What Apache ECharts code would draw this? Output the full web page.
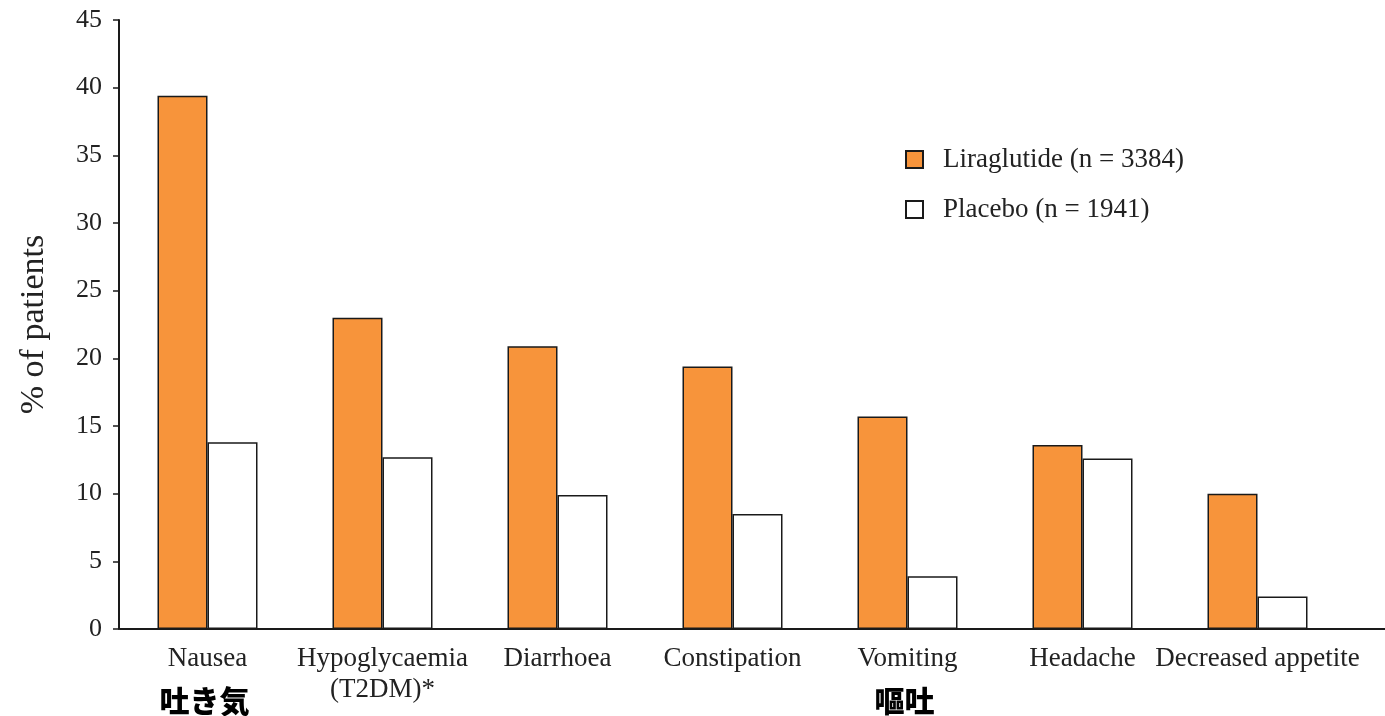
<!DOCTYPE html>
<html>
<head>
<meta charset="utf-8">
<script src="https://cdn.jsdelivr.net/npm/echarts@6/dist/echarts.min.js"></script>
<style>
  html, body { margin: 0; padding: 0; background: #fff; }
  #chart { width: 1385px; height: 716px; }
</style>
</head>
<body>
<div id="chart"></div>
<script>
// Adverse events reported with liraglutide vs placebo
const categories = ['Nausea', 'Hypoglycaemia\n(T2DM)*', 'Diarrhoea', 'Constipation', 'Vomiting', 'Headache', 'Decreased appetite'];
const japaneseNotes = ['吐き気', '', '', '', '嘔吐', '', ''];
const liraglutide = [39.4, 23.0, 20.9, 19.4, 15.7, 13.6, 10.0];
const placebo = [13.8, 12.7, 9.9, 8.5, 3.9, 12.6, 2.4];
const seriesNames = ['Liraglutide (n = 3384)', 'Placebo (n = 1941)'];
const yTicks = { min: 0, max: 45, interval: 5 };

const SERIF = '"Liberation Serif", "DejaVu Serif", serif';
const ORANGE = '#F7943B';
const INK = '#1a1a1a';
const GRID_LEFT = 120;
const GRID_RIGHT = 40;

const chart = echarts.init(document.getElementById('chart'), null, { renderer: 'canvas' });

const option = {
  animation: false,
  backgroundColor: '#ffffff',
  grid: { left: GRID_LEFT, right: GRID_RIGHT, top: 20, bottom: 87, containLabel: false },
  legend: {
    orient: 'vertical',
    left: 900,
    top: 141,
    itemWidth: 17,
    itemHeight: 17,
    itemGap: 23,
    icon: 'rect',
    textStyle: { fontFamily: SERIF, fontSize: 27, color: '#222', padding: [0, 0, 0, 15] },
    data: seriesNames
  },
  xAxis: {
    type: 'category',
    data: categories,
    axisLine: { show: true, lineStyle: { color: INK, width: 2 } },
    axisTick: { show: false },
    axisLabel: {
      interval: 0,
      margin: 14,
      fontFamily: SERIF,
      fontSize: 27,
      lineHeight: 31,
      color: '#222'
    },
    splitLine: { show: false }
  },
  yAxis: {
    type: 'value',
    min: yTicks.min,
    max: yTicks.max,
    interval: yTicks.interval,
    offset: 1,
    name: '% of patients',
    nameLocation: 'middle',
    nameGap: 68,
    nameRotate: 90,
    nameTextStyle: { fontFamily: SERIF, fontSize: 34, color: '#222' },
    axisLine: { show: true, lineStyle: { color: INK, width: 2 } },
    axisTick: { show: true, length: 6, inside: false, lineStyle: { color: INK, width: 1.5 } },
    axisLabel: { margin: 17, fontFamily: SERIF, fontSize: 26, color: '#222' },
    splitLine: { show: false }
  },
  series: [
    {
      name: seriesNames[0],
      type: 'bar',
      data: liraglutide,
      barWidth: 50,
      barGap: '0%',
      itemStyle: { color: ORANGE, borderColor: INK, borderWidth: 1.5 }
    },
    {
      name: seriesNames[1],
      type: 'bar',
      data: placebo,
      barWidth: 50,
      barGap: '0%',
      itemStyle: { color: '#ffffff', borderColor: INK, borderWidth: 1.5 }
    }
  ]
};

chart.setOption(option);

// Japanese notes under selected categories, plus the x-axis line running on to the right edge
const graphics = [];
japaneseNotes.forEach((note, i) => {
  if (!note) return;
  const x = chart.convertToPixel({ xAxisIndex: 0 }, i);
  graphics.push({
    type: 'text',
    x: x - 3,
    y: 701,
    style: {
      text: note,
      font: '900 30px "Noto Sans CJK JP"',
      fill: '#000',
      align: 'center',
      verticalAlign: 'middle'
    }
  });
});
const axisY = chart.convertToPixel({ yAxisIndex: 0 }, 0);
const gridRightX = 1385 - GRID_RIGHT;
graphics.push({
  type: 'line',
  shape: { x1: gridRightX - 1, y1: axisY, x2: 1385, y2: axisY },
  style: { stroke: INK, lineWidth: 2 }
});
chart.setOption({ graphic: graphics });
</script>
</body>
</html>
